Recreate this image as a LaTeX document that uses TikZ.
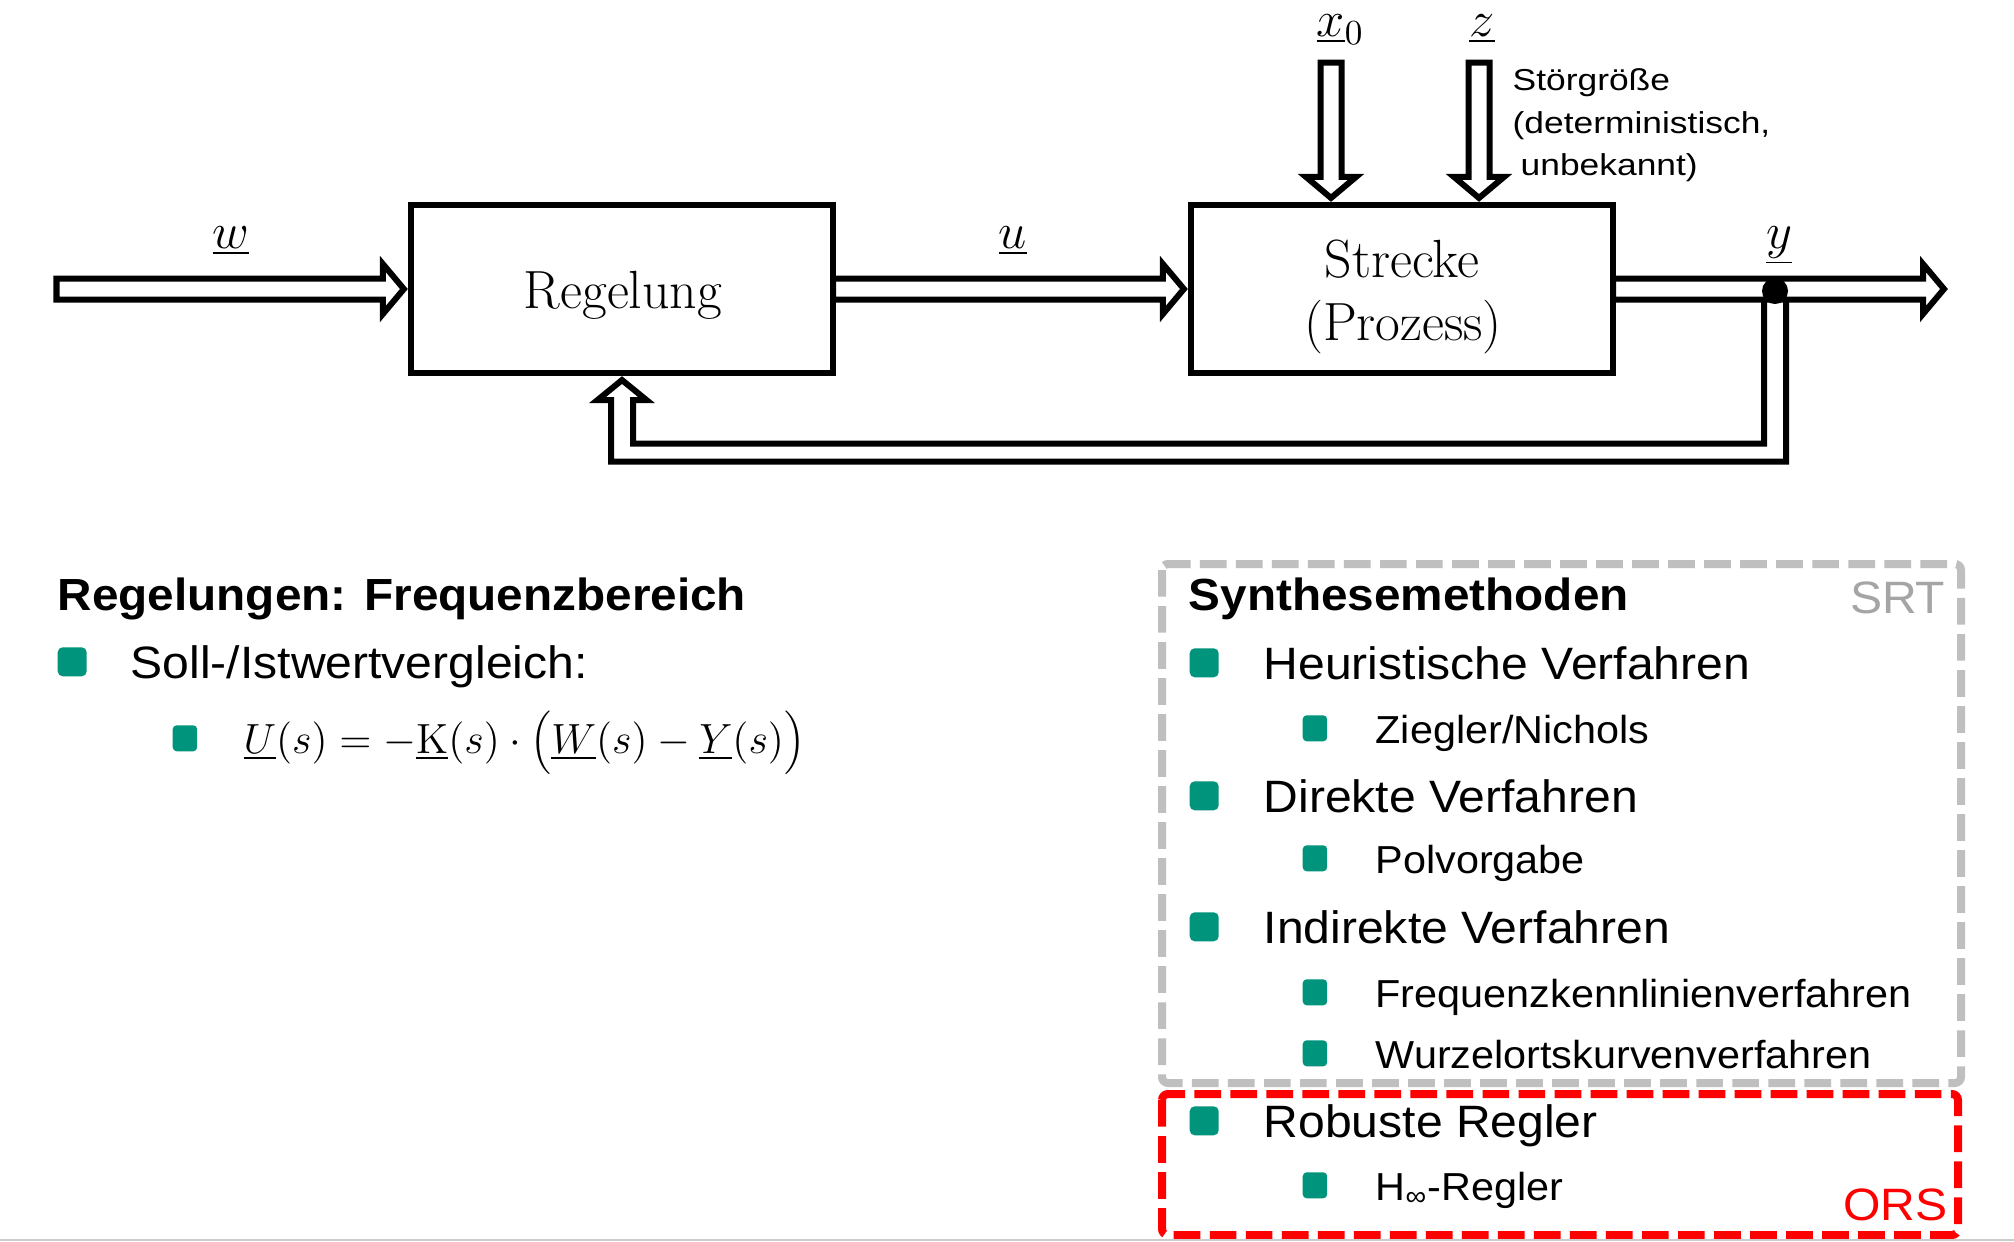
\documentclass[tikz,border=0pt]{standalone}
\usepackage{fontspec}
\usetikzlibrary{calc}
\newfontfamily\slidefont[FakeStretch=1.06]{Liberation Sans}
\newfontfamily\diafont[FakeStretch=1.17]{Liberation Sans}
\definecolor{bult}{RGB}{0,148,124}
\definecolor{srtgray}{RGB}{165,165,165}
\definecolor{boxgray}{RGB}{191,191,191}
\definecolor{orsred}{RGB}{255,0,0}
% hollow block arrow pointing right: #1 start, #2 tip
\newcommand\hollowR[2]{\draw[hollow] ($(#1)+(0,-10.5)$) -- ($(#2)+(-25,-10.5)$) -- ($(#2)+(-25,-25)$) -- ($(#2)+(-4,0)$) -- ($(#2)+(-25,25)$) -- ($(#2)+(-25,10.5)$) -- ($(#1)+(0,10.5)$) -- cycle;}
% hollow block arrow pointing down: #1 start, #2 tip
\newcommand\hollowD[2]{\draw[hollow] ($(#1)+(-10.5,0)$) -- ($(#2)+(-10.5,-25)$) -- ($(#2)+(-25,-25)$) -- ($(#2)+(0,-4)$) -- ($(#2)+(25,-25)$) -- ($(#2)+(10.5,-25)$) -- ($(#1)+(10.5,0)$) -- cycle;}
\tikzset{
  blk/.style={draw, line width=0.06cm, minimum width=4.22cm, minimum height=1.68cm, inner sep=0},
  hollow/.style={draw, fill=white, line width=0.06cm, line join=miter},
  boxtxt/.style={inner sep=0, anchor=base, font=\fontsize{15.3}{18}\selectfont},
  lab/.style={inner sep=0, anchor=base, font=\fontsize{14.4}{17}\selectfont},
  stoer/.style={inner sep=0, anchor=base west, font=\diafont\fontsize{8.6}{10}\selectfont},
  headA/.style={inner sep=0, anchor=base west, font=\slidefont\bfseries\fontsize{12.8}{15}\selectfont},
  txtA/.style={inner sep=0, anchor=base west, font=\slidefont\fontsize{12.9}{15}\selectfont},
  txtB/.style={inner sep=0, anchor=base west, font=\slidefont\fontsize{11.1}{13}\selectfont},
  bulA/.style={fill=bult, rounded corners=0.05cm, minimum width=0.29cm, minimum height=0.29cm, inner sep=0, anchor=south west},
  bulB/.style={fill=bult, rounded corners=0.04cm, minimum width=0.245cm, minimum height=0.26cm, inner sep=0, anchor=south west},
  dashbox/.style={line width=0.08cm, rounded corners=0.06cm, dash pattern=on 0.267cm off 0.093cm},
}
\begin{document}
\begin{tikzpicture}[x=0.01cm,y=-0.01cm]
\useasboundingbox (0,0) rectangle (2014,1242);
\fill[white] (0,0) rectangle (2014,1242);

% ---- block diagram ----
\node[blk] (reg) at (622,289) {};
\node[blk] (str) at (1402,289) {};
\node[boxtxt] (regtxt) at (623,308) {Regelung};
\node[boxtxt] (strtxt1) at (1402,277) {Strecke};
\node[boxtxt] (strtxt2) at (1403,340) {(Prozess)};

\coordinate (win) at (56.5,289);
\coordinate (uin) at ($(reg.east)+(-3,0)$);
\coordinate (yin) at ($(str.east)+(-3,0)$);
\coordinate (yout) at (1948,289);
\coordinate (x0s) at (1331,62.5);
\coordinate (x0t) at (x0s |- str.north);
\coordinate (zs) at (1479,62.5);
\coordinate (zt) at (zs |- str.north);

\hollowR{win}{reg.west}
\hollowR{uin}{str.west}
\hollowR{yin}{yout}
\hollowD{x0s}{x0t}
\hollowD{zs}{zt}

% feedback
\coordinate (fbR) at (1786,300);
\coordinate (fbL) at (1764,300);
\draw[line width=0.06cm, line join=miter]
  (fbR) -- (fbR |- 0,461.5) -- ($(reg.south |- 0,461.5)+(-11,0)$)
  -- ($(reg.south)+(-11,24)$) -- ($(reg.south)+(-24.5,24)$) -- ($(reg.south)+(0,4)$)
  -- ($(reg.south)+(24.5,24)$) -- ($(reg.south)+(11,24)$)
  -- ($(reg.south |- 0,443.5)+(11,0)$) -- (fbL |- 0,443.5) -- (fbL);
\node[circle, fill, inner sep=0, minimum size=0.26cm] (junc) at (1775,291) {};

% labels
\node[lab] (lw) at (231,248) {$\underline{w}$};
\node[lab] (lu) at (1013,248) {$\underline{u}$};
\node[lab] (ly) at (1779,248) {$\underline{y}$};
\node[lab, anchor=base west] (lx0) at (1316,36) {$\underline{x}_0$};
\node[lab] (lz) at (1482,36) {$\underline{z}$};
\node[stoer] (st1) at (1512,90) {Störgröße};
\node[stoer] (st2) at (1512,133) {(deterministisch,};
\node[stoer] (st3) at (1520,175) {unbekannt)};

% ---- left column ----
\node[headA] (h1) at (57,610) {Regelungen: Frequenzbereich};
\node[bulA] (bl1) at (57,677) {};
\node[txtA] (t1) at (130,678) {Soll-/Istwertvergleich:};
\node[bulB] (bl2) at (172,752) {};
\node[inner sep=0, anchor=base west, font=\fontsize{12}{14}\selectfont] (eq) at (243,753)
  {$\underline{U}(s) = -\underline{\mathrm{K}}(s)\cdot\Bigl(\underline{W}(s) - \underline{Y}(s)\Bigr)$};

% ---- right column ----
\draw[dashbox, draw=boxgray] (1162,564) rectangle (1961,1083);
\draw[dashbox, draw=orsred] (1162,1094) rectangle (1958,1235);
\draw[line width=0.02cm, draw=black!20] (0,1239.5) -- (2014,1239.5);

\node[headA] (h2) at (1188,610) {Synthesemethoden};
\node[txtA, anchor=base east, text=srtgray] (srt) at (1946,613) {SRT};

\node[bulA] (r1) at (1189,678) {};
\node[txtA] (rt1) at (1263,679) {Heuristische Verfahren};
\node[bulB] (r2) at (1302,742) {};
\node[txtB] (rt2) at (1375,743) {Ziegler/Nichols};
\node[bulA] (r3) at (1189,811) {};
\node[txtA] (rt3) at (1263,812) {Direkte Verfahren};
\node[bulB] (r4) at (1302,872) {};
\node[txtB] (rt4) at (1375,873) {Polvorgabe};
\node[bulA] (r5) at (1189,942) {};
\node[txtA] (rt5) at (1263,943) {Indirekte Verfahren};
\node[bulB] (r6) at (1302,1006) {};
\node[txtB] (rt6) at (1375,1007) {Frequenzkennlinienverfahren};
\node[bulB] (r7) at (1302,1067) {};
\node[txtB] (rt7) at (1375,1068) {Wurzelortskurvenverfahren};
\node[bulA] (r8) at (1189,1136) {};
\node[txtA] (rt8) at (1263,1137) {Robuste Regler};
\node[bulB] (r9) at (1302,1199) {};
\node[txtB] (rt9) at (1375,1200) {H\textsubscript{∞}-Regler};
\node[txtA, anchor=base east, text=orsred] (ors) at (1948,1220) {ORS};
\end{tikzpicture}
\end{document}
